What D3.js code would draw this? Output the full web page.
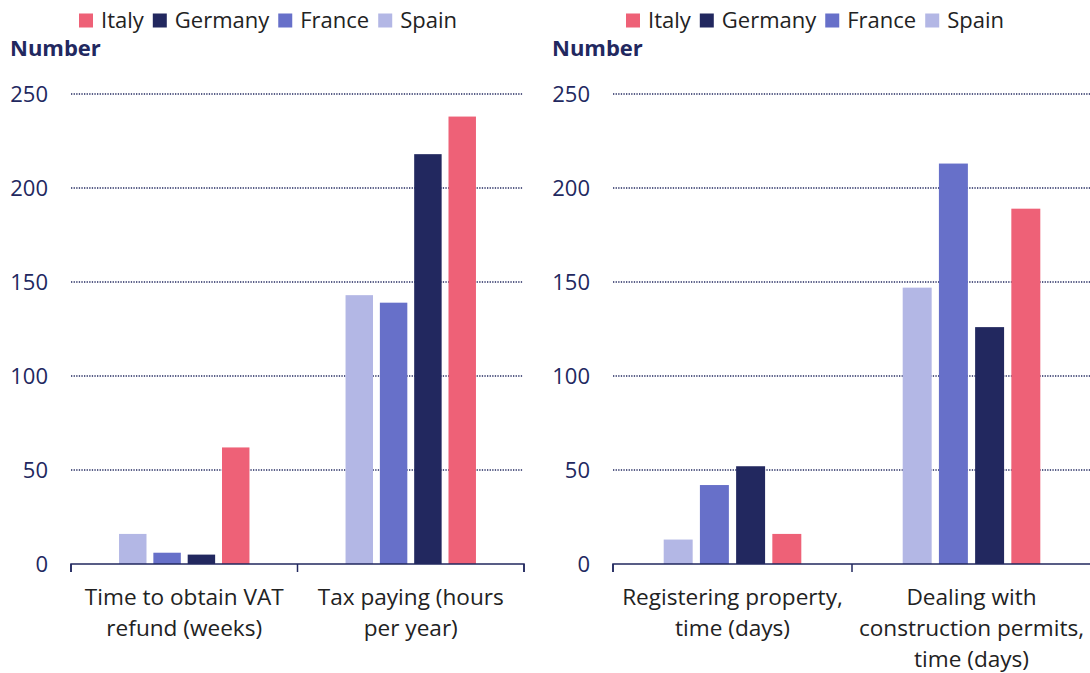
<!DOCTYPE html>
<html>
<head>
<meta charset="utf-8">
<script src="https://cdn.jsdelivr.net/npm/d3@7"></script>
<style>
  body { margin: 0; background: #fff; }
  text { font-family: "Open Sans", "Noto Sans", sans-serif; }
</style>
</head>
<body>
<div id="chart"></div>
<script>
// data
var countries = ["Spain", "France", "Germany", "Italy"];
var legendOrder = ["Italy", "Germany", "France", "Spain"];
var colors = ["#B3B7E5", "#6770C9", "#22285F", "#EE6177"];
var yTicks = [0, 50, 100, 150, 200, 250];

var leftLabels = [["Time to obtain VAT", "refund (weeks)"], ["Tax paying (hours", "per year)"]];
var leftSpain = [16, 143];
var leftFrance = [6, 139];
var leftGermany = [5, 218];
var leftItaly = [62, 238];

var rightLabels = [["Registering property,", "time (days)"], ["Dealing with", "construction permits,", "time (days)"]];
var rightSpain = [13, 147];
var rightFrance = [42, 213];
var rightGermany = [52, 126];
var rightItaly = [16, 189];

// svg dimensions
var svgWidth = 1090;
var svgHeight = 673;
var navy = "#22285F";

var svg = d3.select("#chart")
  .append("svg")
  .attr("width", svgWidth)
  .attr("height", svgHeight);

var color = d3.scaleOrdinal().domain(countries).range(colors);

function drawPanel(opts) {
  var rows = opts.labels.map(function(l, i) {
    return {
      key: "c" + i,
      lines: l,
      values: countries.map(function(c, j) { return {country: c, value: opts.series[j][i]}; })
    };
  });

  var x0 = d3.scaleBand()
    .domain(rows.map(d => d.key))
    .range([opts.left, opts.right]);
  var x1 = d3.scaleBand()
    .domain(countries)
    .range([0, x0.bandwidth()])
    .paddingInner(0.2)
    .paddingOuter(1.4);
  var y = d3.scaleLinear()
    .domain([0, 250])
    .range([564, 94]);

  var g = svg.append("g");

  // legend
  var lx = opts.legendX;
  legendOrder.forEach(function(c) {
    g.append("rect")
      .attr("x", lx).attr("y", 13.5)
      .attr("width", 14).attr("height", 14)
      .attr("fill", color(c));
    var t = g.append("text")
      .attr("x", lx + 22).attr("y", 28)
      .attr("font-size", 22)
      .attr("fill", "#222")
      .text(c);
    lx += 22 + t.node().getComputedTextLength() + 9;
  });

  // y label
  g.append("text")
    .attr("x", opts.left - 61).attr("y", 56)
    .attr("font-size", 22)
    .attr("font-weight", "bold")
    .attr("fill", navy)
    .text("Number");

  // gridlines
  g.selectAll(".grid")
    .data(yTicks.filter(d => d > 0))
    .enter()
    .append("line")
    .attr("x1", opts.left).attr("x2", opts.gridRight)
    .attr("y1", d => y(d)).attr("y2", d => y(d))
    .attr("stroke", navy)
    .attr("stroke-width", 1.3)
    .attr("stroke-dasharray", "1.3,1.3");

  // y axis labels
  var yAxis = g.append("g")
    .attr("transform", `translate(${opts.left - 23}, 0)`)
    .call(d3.axisLeft(y).tickValues(yTicks).tickSize(0).tickPadding(0));
  yAxis.select(".domain").remove();
  yAxis.selectAll("text")
    .attr("font-size", 22)
    .attr("font-family", "'Open Sans', sans-serif")
    .attr("fill", navy)
    .attr("dy", "0.35em");

  // bars
  var groups = g.selectAll(".grp")
    .data(rows)
    .enter()
    .append("g")
    .attr("transform", d => `translate(${x0(d.key)}, 0)`);
  groups.selectAll("rect")
    .data(d => d.values)
    .enter()
    .append("rect")
    .attr("x", d => x1(d.country))
    .attr("y", d => y(d.value))
    .attr("width", x1.bandwidth())
    .attr("height", d => y(0) - y(d.value))
    .attr("fill", d => color(d.country));

  // x axis
  var xAxis = g.append("g")
    .attr("transform", "translate(0, 564)")
    .call(d3.axisBottom(x0).tickSize(0).tickFormat(""));
  xAxis.select(".domain")
    .attr("stroke", navy)
    .attr("stroke-width", 1.5)
    .attr("d", `M${opts.left},8V0H${opts.right}V8`);
  var bounds = [opts.left].concat(rows.map(d => x0(d.key) + x0.bandwidth()));
  xAxis.selectAll(".sep")
    .data(bounds)
    .enter()
    .append("line")
    .attr("x1", d => d).attr("x2", d => d)
    .attr("y1", 0).attr("y2", 8)
    .attr("stroke", navy)
    .attr("stroke-width", 1.5);

  // category labels
  rows.forEach(function(r) {
    var t = g.append("text")
      .attr("x", x0(r.key) + x0.bandwidth() / 2)
      .attr("y", 605)
      .attr("text-anchor", "middle")
      .attr("font-size", 22.6)
      .attr("fill", "#222");
    r.lines.forEach(function(line, i) {
      t.append("tspan")
        .attr("x", x0(r.key) + x0.bandwidth() / 2)
        .attr("dy", i === 0 ? 0 : 31)
        .text(line);
    });
  });
}

drawPanel({
  left: 71, right: 524, gridRight: 523, legendX: 79,
  labels: leftLabels,
  series: [leftSpain, leftFrance, leftGermany, leftItaly]
});
drawPanel({
  left: 613, right: 1091, gridRight: 1090, legendX: 626,
  labels: rightLabels,
  series: [rightSpain, rightFrance, rightGermany, rightItaly]
});
</script>
</body>
</html>
